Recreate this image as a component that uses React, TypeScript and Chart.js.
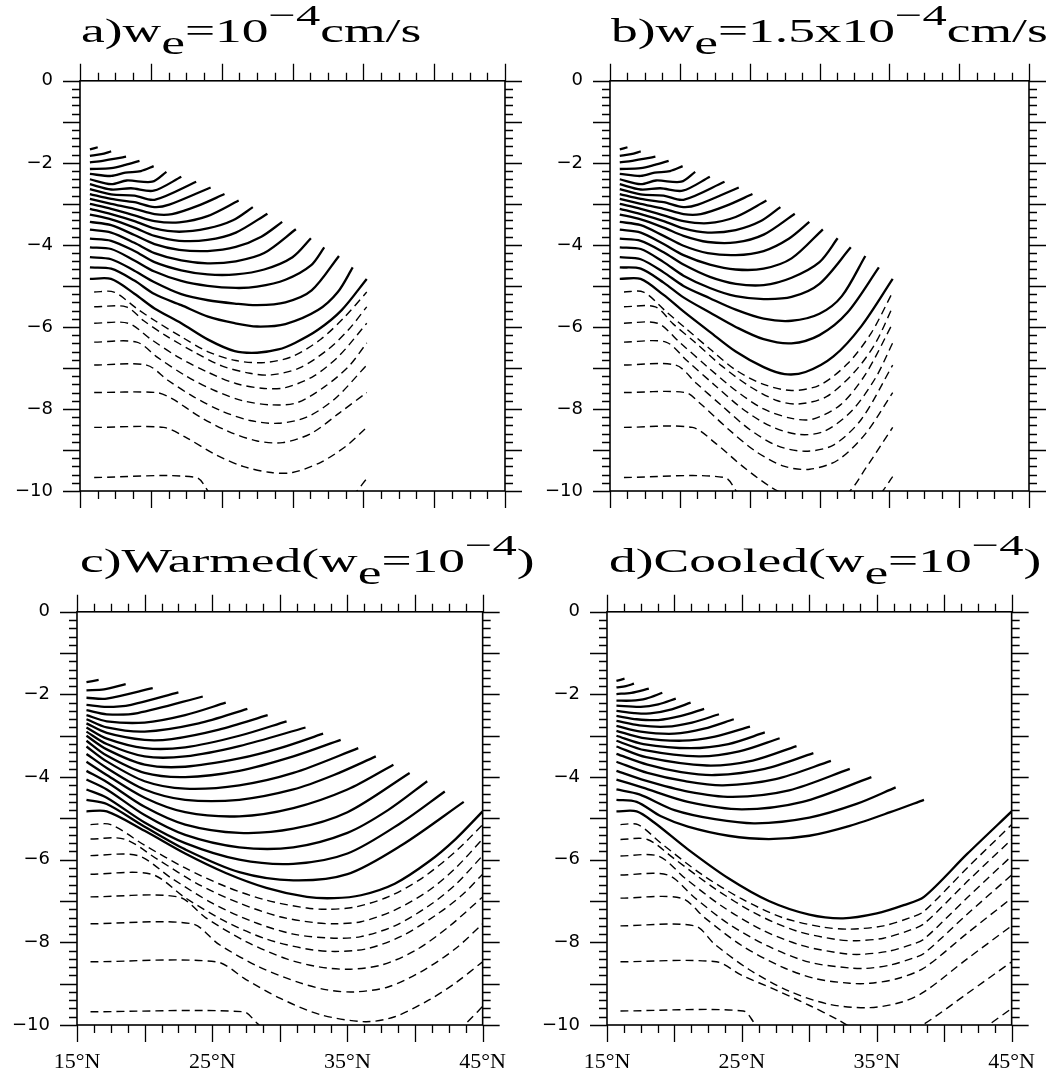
import React, { useEffect, useRef } from "react";
import { Chart, registerables } from "chart.js";
Chart.register(...registerables);

type Line = [number, number][];

const xLabelValues = [15, 25, 35, 45];
const yLabelValues = [0, -2, -4, -6, -8, -10];

// ---------- Panel a ----------
const aSolid: Line[] = [
  [[15.7,-1.67],[16.25,-1.62]],
  [[15.7,-1.83],[16.5,-1.79],[17.2,-1.72]],
  [[15.7,-1.99],[16.6,-1.95],[17.5,-1.9],[18.25,-1.85]],
  [[15.7,-2.15],[17.2,-2.13],[18.2,-2.05],[19.2,-1.95]],
  [[15.7,-2.27],[17.2,-2.32],[18.2,-2.24],[19.3,-2.2],[20.2,-2.08]],
  [[15.7,-2.4],[17.2,-2.52],[18.3,-2.43],[20.1,-2.46],[21.1,-2.22]],
  [[15.7,-2.52],[17.2,-2.65],[18.6,-2.62],[20.2,-2.68],[22.15,-2.34]],
  [[15.7,-2.64],[17.2,-2.77],[18.84,-2.8],[20.26,-2.9],[23.2,-2.46]],
  [[15.7,-2.76],[17.2,-2.88],[18.84,-2.96],[20.26,-3.08],[21.3,-3.02],[24.22,-2.6]],
  [[15.7,-2.88],[17.2,-3.0],[18.84,-3.12],[20.26,-3.25],[21.5,-3.25],[23.3,-3.05],[25.2,-2.76]],
  [[15.7,-3.0],[17.2,-3.12],[18.84,-3.28],[20.26,-3.42],[22,-3.45],[24,-3.3],[26.2,-2.92]],
  [[15.7,-3.12],[17.2,-3.25],[18.84,-3.42],[20.26,-3.6],[22,-3.68],[24,-3.6],[25.8,-3.4],[27.2,-3.08]],
  [[15.7,-3.26],[17.2,-3.38],[18.84,-3.58],[20.26,-3.78],[22,-3.9],[24,-3.88],[26,-3.7],[28.23,-3.24]],
  [[15.7,-3.44],[17.2,-3.52],[18.84,-3.76],[20.26,-3.98],[22,-4.12],[24,-4.15],[26,-4.05],[27.8,-3.8],[29.27,-3.44]],
  [[15.7,-3.63],[17.2,-3.7],[18.84,-3.95],[20.26,-4.2],[22.15,-4.38],[24,-4.45],[26,-4.4],[28,-4.2],[30.24,-3.62]],
  [[15.7,-3.85],[17.2,-3.9],[18.84,-4.15],[20.26,-4.42],[22.15,-4.62],[24,-4.72],[26,-4.72],[28,-4.6],[30,-4.3],[31.3,-3.84]],
  [[15.7,-4.06],[17.2,-4.1],[18.84,-4.38],[20.26,-4.65],[22.15,-4.88],[24,-5.0],[26,-5.05],[27.5,-5.02],[29.5,-4.85],[31.3,-4.5],[32.24,-4.06]],
  [[15.7,-4.3],[17.2,-4.35],[18.84,-4.63],[20.26,-4.91],[22.15,-5.2],[24.04,-5.35],[25.92,-5.43],[27.5,-5.47],[29.5,-5.4],[31.35,-5.11],[33.28,-4.27]],
  [[15.7,-4.55],[17.2,-4.58],[18.84,-4.87],[20.26,-5.2],[22.15,-5.47],[24.04,-5.75],[25.92,-5.91],[27.5,-5.99],[29.5,-5.93],[31.8,-5.59],[33.2,-5.15],[34.25,-4.55]],
  [[15.7,-4.83],[17.19,-4.83],[18.84,-5.19],[20.26,-5.55],[22.15,-5.91],[24.04,-6.31],[25.92,-6.59],[27.5,-6.63],[29,-6.55],[30.17,-6.39],[31.8,-6.07],[33.47,-5.59],[35.24,-4.83]],
];
const aDashed: Line[] = [
  [[16,-5.15],[17.4,-5.15],[19,-5.55],[20.3,-5.85],[22.2,-6.25],[24,-6.6],[26,-6.82],[28,-6.87],[30,-6.72],[32,-6.3],[33.7,-5.75],[35.24,-5.15]],
  [[16,-5.51],[18.25,-5.51],[19.5,-5.85],[21,-6.2],[23,-6.6],[25,-6.95],[27,-7.13],[28.5,-7.17],[30.5,-7.0],[32.5,-6.55],[34,-6.05],[35.24,-5.51]],
  [[16,-5.91],[18.4,-5.91],[20,-6.3],[22,-6.75],[24,-7.1],[26,-7.38],[28,-7.5],[29.5,-7.48],[31.5,-7.2],[33.3,-6.7],[35.24,-5.91]],
  [[16,-6.37],[19,-6.37],[20.5,-6.75],[22.5,-7.2],[24.5,-7.55],[26.5,-7.8],[28.5,-7.9],[30.3,-7.85],[32.3,-7.45],[34,-6.95],[35.24,-6.39]],
  [[16,-6.93],[19.7,-6.93],[21.2,-7.3],[23,-7.7],[25,-8.05],[27,-8.28],[29,-8.35],[31,-8.2],[33,-7.75],[35.24,-6.93]],
  [[16,-7.6],[20.4,-7.6],[21.5,-7.75],[23.5,-8.2],[25.5,-8.55],[27.5,-8.78],[29.3,-8.82],[31.3,-8.6],[33.3,-8.1],[35.24,-7.6]],
  [[16,-8.45],[20.9,-8.45],[22.5,-8.7],[24.5,-9.1],[26.5,-9.4],[28.5,-9.55],[30,-9.55],[32,-9.3],[33.8,-8.9],[35.24,-8.45]],
  [[16,-9.67],[23.2,-9.67],[24.3,-10.1],[29,-11],[34.2,-10.1],[35.24,-9.7]],
];

// ---------- Panel b ----------
const bSolid: Line[] = [
  [[15.7,-1.67],[16.25,-1.62]],
  [[15.7,-1.83],[16.5,-1.79],[17.2,-1.72]],
  [[15.7,-1.99],[16.6,-1.95],[17.5,-1.9],[18.25,-1.85]],
  [[15.7,-2.15],[17.2,-2.13],[18.2,-2.05],[19.2,-1.95]],
  [[15.7,-2.27],[17.2,-2.32],[18.2,-2.24],[19.3,-2.2],[20.2,-2.08]],
  [[15.7,-2.4],[17.2,-2.52],[18.3,-2.43],[20.1,-2.46],[21.1,-2.22]],
  [[15.7,-2.52],[17.2,-2.65],[18.6,-2.62],[20.2,-2.68],[22.15,-2.34]],
  [[15.7,-2.64],[17.2,-2.77],[18.84,-2.8],[20.26,-2.9],[23.2,-2.46]],
  [[15.7,-2.76],[17.2,-2.88],[18.84,-2.96],[20.26,-3.08],[21.3,-3.02],[24.22,-2.6]],
  [[15.7,-2.88],[17.2,-3.0],[18.84,-3.12],[20.26,-3.25],[21.5,-3.25],[23.3,-3.05],[25.2,-2.76]],
  [[15.7,-3.0],[17.2,-3.12],[18.84,-3.28],[20.26,-3.42],[22,-3.47],[24,-3.32],[26.2,-2.92]],
  [[15.7,-3.12],[17.2,-3.25],[18.84,-3.42],[20.26,-3.6],[22,-3.7],[24,-3.64],[25.8,-3.42],[27.2,-3.08]],
  [[15.7,-3.26],[17.2,-3.38],[18.84,-3.58],[20.26,-3.78],[22,-3.93],[24,-3.94],[26,-3.75],[28.23,-3.24]],
  [[15.7,-3.44],[17.2,-3.52],[18.84,-3.78],[20.26,-4.02],[22,-4.2],[24,-4.25],[26,-4.15],[27.8,-3.85],[29.27,-3.44]],
  [[15.7,-3.63],[17.2,-3.7],[18.84,-3.98],[20.26,-4.25],[22.15,-4.48],[24,-4.6],[26,-4.58],[28,-4.33],[30.24,-3.62]],
  [[15.7,-3.85],[17.2,-3.9],[18.84,-4.18],[20.26,-4.48],[22.15,-4.78],[24,-4.95],[26,-4.98],[28,-4.8],[30,-4.42],[31.3,-3.84]],
  [[15.7,-4.06],[17.2,-4.1],[18.84,-4.42],[20.26,-4.75],[22.15,-5.05],[24,-5.25],[26,-5.32],[28,-5.27],[30,-4.95],[32.24,-4.06]],
  [[15.7,-4.3],[17.2,-4.35],[18.84,-4.67],[20.26,-5.0],[22.15,-5.3],[24,-5.58],[26,-5.8],[28,-5.85],[30,-5.68],[31.6,-5.25],[33.28,-4.27]],
  [[15.7,-4.55],[17.2,-4.58],[18.84,-4.92],[20.26,-5.28],[22.15,-5.65],[24,-6.0],[26,-6.3],[28,-6.4],[30,-6.2],[32,-5.65],[34.25,-4.55]],
  [[15.7,-4.83],[17.19,-4.83],[18.84,-5.22],[20.26,-5.62],[22.15,-6.12],[24,-6.6],[26,-6.98],[27.5,-7.15],[29,-7.1],[31,-6.72],[33,-5.98],[35.24,-4.83]],
];
const bDashed: Line[] = [
  [[16,-5.15],[17.4,-5.15],[19,-5.62],[20.3,-6.0],[22.2,-6.55],[24,-7.05],[26,-7.4],[28,-7.55],[30,-7.42],[32,-6.9],[33.7,-6.15],[35.24,-5.15]],
  [[16,-5.51],[18.25,-5.51],[19.5,-5.92],[21,-6.35],[23,-6.95],[25,-7.45],[27,-7.8],[28.5,-7.88],[30.5,-7.7],[32.5,-7.1],[34,-6.4],[35.24,-5.51]],
  [[16,-5.91],[18.4,-5.91],[20,-6.38],[22,-6.98],[24,-7.55],[26,-8.0],[28,-8.23],[29.5,-8.25],[31.5,-7.9],[33.3,-7.15],[35.24,-5.91]],
  [[16,-6.37],[19,-6.37],[20.5,-6.82],[22.5,-7.42],[24.5,-8.0],[26.5,-8.42],[28.5,-8.62],[30.3,-8.55],[32.3,-8.05],[34,-7.25],[35.24,-6.39]],
  [[16,-6.93],[19.7,-6.93],[21.2,-7.38],[23,-7.92],[25,-8.5],[27,-8.9],[29,-9.03],[31,-8.88],[33,-8.25],[35.24,-6.93]],
  [[16,-7.6],[20.4,-7.6],[21.5,-7.88],[23.5,-8.5],[25.5,-9.05],[27.5,-9.4],[29.3,-9.47],[31.3,-9.25],[33.3,-8.6],[35.24,-7.6]],
  [[16,-8.45],[20.9,-8.45],[22.5,-8.82],[24.5,-9.4],[26.5,-9.9],[28,-10.15],[30,-10.3],[32,-10.05],[33.3,-9.45],[35.24,-8.45]],
  [[16,-9.67],[23.2,-9.67],[24.3,-10.1],[29,-11],[34.2,-10.1],[35.24,-9.65]],
];

// ---------- Panel c ----------
const cSolid: Line[] = [
  [[15.7,-1.7],[16.6,-1.65]],
  [[15.7,-1.9],[17,-1.88],[18.6,-1.75]],
  [[15.7,-2.08],[17.2,-2.1],[20.6,-1.85]],
  [[15.7,-2.25],[17.2,-2.3],[19,-2.25],[22.5,-1.95]],
  [[15.7,-2.38],[17.2,-2.48],[19.5,-2.45],[24.3,-2.05]],
  [[15.7,-2.5],[17.2,-2.65],[20,-2.68],[23,-2.5],[26,-2.2]],
  [[15.7,-2.6],[17.2,-2.8],[20,-2.9],[24,-2.7],[27.6,-2.35]],
  [[15.7,-2.7],[17.2,-2.93],[20,-3.1],[22,-3.08],[25.5,-2.85],[29.1,-2.5]],
  [[15.7,-2.8],[17.2,-3.07],[20,-3.3],[23,-3.28],[27,-3.0],[30.5,-2.65]],
  [[15.7,-2.9],[17.2,-3.2],[20,-3.5],[23,-3.5],[27,-3.25],[31.9,-2.8]],
  [[15.7,-3.0],[17.2,-3.33],[20,-3.7],[23,-3.75],[27,-3.55],[30,-3.3],[33.2,-2.95]],
  [[15.7,-3.12],[17.2,-3.48],[20,-3.9],[23,-4.0],[27,-3.85],[31,-3.5],[34.5,-3.1]],
  [[15.7,-3.26],[17.2,-3.62],[20,-4.1],[23,-4.28],[27,-4.2],[31,-3.9],[35.8,-3.3]],
  [[15.7,-3.44],[17.2,-3.78],[20,-4.3],[23,-4.55],[27,-4.55],[31,-4.3],[34,-3.95],[37.1,-3.5]],
  [[15.7,-3.63],[17.2,-3.95],[20,-4.5],[23,-4.85],[27,-4.95],[31,-4.75],[35,-4.3],[38.4,-3.7]],
  [[15.7,-3.85],[17.2,-4.12],[20,-4.72],[23,-5.15],[27,-5.35],[31,-5.25],[35,-4.85],[39.6,-3.9]],
  [[15.7,-4.06],[17.2,-4.3],[20,-4.92],[23,-5.4],[27,-5.7],[31,-5.7],[35,-5.35],[38,-4.8],[40.9,-4.1]],
  [[15.7,-4.3],[17.2,-4.5],[20,-5.1],[23,-5.6],[27,-6.0],[31,-6.1],[35,-5.85],[39,-5.1],[42.2,-4.35]],
  [[15.7,-4.55],[17.2,-4.65],[20,-5.2],[23,-5.75],[27,-6.3],[31,-6.5],[35,-6.35],[39,-5.65],[43.6,-4.6]],
  [[15.7,-4.83],[17.2,-4.83],[20,-5.3],[23,-5.85],[26,-6.32],[29,-6.68],[32,-6.9],[34,-6.93],[36,-6.86],[38.5,-6.58],[41,-6.05],[43,-5.5],[45,-4.83]],
];
const cDashed: Line[] = [
  [[16,-5.15],[17.5,-5.15],[20,-5.65],[23,-6.2],[26,-6.65],[29,-6.98],[32,-7.17],[33.5,-7.2],[35.5,-7.15],[38,-6.9],[40.5,-6.45],[43,-5.8],[45,-5.15]],
  [[16,-5.5],[18.5,-5.5],[21,-6.0],[24,-6.6],[27,-7.05],[30,-7.38],[32.5,-7.52],[34,-7.55],[36,-7.5],[38.5,-7.22],[41,-6.75],[43,-6.2],[45,-5.5]],
  [[16,-5.9],[19.5,-5.9],[22,-6.45],[25,-7.05],[28,-7.5],[31,-7.8],[34,-7.9],[36,-7.86],[38.5,-7.6],[41,-7.12],[43,-6.6],[45,-5.9]],
  [[16,-6.35],[20.5,-6.35],[23,-6.92],[26,-7.5],[29,-7.92],[32,-8.16],[34.1,-8.22],[36.5,-8.15],[39,-7.85],[41.5,-7.35],[43.5,-6.85],[45,-6.35]],
  [[16,-6.9],[22.5,-6.9],[24.5,-7.4],[27.5,-7.98],[30.5,-8.4],[33,-8.6],[35.2,-8.65],[37.5,-8.55],[40,-8.2],[42.5,-7.62],[45,-6.9]],
  [[16,-7.55],[23.5,-7.55],[25.5,-8.05],[28.5,-8.6],[31.5,-8.98],[33.5,-9.15],[35.5,-9.2],[38,-9.08],[40.5,-8.7],[43,-8.15],[45,-7.55]],
  [[16,-8.47],[25.3,-8.47],[27.5,-8.9],[30,-9.35],[33,-9.75],[36.3,-9.92],[38.5,-9.8],[41,-9.4],[43,-8.98],[45,-8.47]],
  [[16,-9.68],[27.3,-9.68],[28.3,-9.95],[29.5,-10.3],[36,-11],[42.5,-10.3],[43.8,-9.95],[45,-9.55]],
];

// ---------- Panel d ----------
const dSolid: Line[] = [
  [[15.7,-1.67],[16.3,-1.62]],
  [[15.7,-1.83],[16.4,-1.8],[17.0,-1.74]],
  [[15.7,-1.99],[16.8,-1.96],[18.1,-1.86]],
  [[15.7,-2.15],[16.8,-2.15],[17.9,-2.1],[19.1,-1.96]],
  [[15.7,-2.27],[17.5,-2.3],[18.8,-2.24],[20.1,-2.1]],
  [[15.7,-2.4],[17.0,-2.45],[18.2,-2.46],[19.8,-2.36],[21.2,-2.2]],
  [[15.7,-2.52],[17.2,-2.6],[18.8,-2.62],[20.5,-2.52],[22.2,-2.35]],
  [[15.7,-2.64],[17.4,-2.75],[19.4,-2.78],[21.3,-2.68],[23.3,-2.48]],
  [[15.7,-2.76],[17.5,-2.9],[20,-2.95],[22.2,-2.83],[24.4,-2.6]],
  [[15.7,-2.88],[17.6,-3.05],[20.6,-3.12],[23,-3.02],[25.6,-2.78]],
  [[15.7,-3.0],[17.7,-3.2],[21.2,-3.3],[24,-3.2],[26.7,-2.92]],
  [[15.7,-3.12],[17.8,-3.35],[21.8,-3.5],[24.8,-3.38],[27.8,-3.06]],
  [[15.7,-3.26],[17.9,-3.52],[22.4,-3.72],[25.8,-3.6],[29.05,-3.25]],
  [[15.7,-3.44],[18,-3.7],[20.5,-3.88],[23,-3.95],[26.7,-3.8],[30.3,-3.42]],
  [[15.7,-3.63],[18,-3.9],[20.8,-4.1],[23.6,-4.2],[27.5,-4.05],[31.6,-3.61]],
  [[15.7,-3.85],[17.8,-4.08],[21,-4.35],[24.3,-4.48],[28.5,-4.32],[33.0,-3.8]],
  [[15.7,-4.06],[17.6,-4.25],[21,-4.6],[25,-4.78],[29.5,-4.6],[34.6,-4.0]],
  [[15.7,-4.3],[17.4,-4.42],[20,-4.8],[23,-5.02],[26,-5.12],[30,-4.98],[33.5,-4.65],[36.4,-4.25]],
  [[15.7,-4.55],[17.2,-4.6],[19,-4.95],[21,-5.2],[24,-5.42],[27,-5.5],[30,-5.42],[33,-5.18],[36,-4.85],[38.5,-4.55]],
  [[15.7,-4.83],[17.2,-4.83],[18.5,-5.1],[21,-5.75],[24,-6.45],[27,-7.0],[30,-7.33],[32.5,-7.42],[35,-7.3],[37,-7.1],[38.5,-6.9],[41.7,-5.86],[45,-4.83]],
];
const dDashed: Line[] = [
  [[16,-5.15],[17.3,-5.15],[19,-5.6],[22,-6.35],[25,-6.95],[28,-7.4],[31,-7.63],[33,-7.68],[35.5,-7.6],[37.5,-7.4],[38.5,-7.25],[41.7,-6.2],[45,-5.15]],
  [[16,-5.51],[18,-5.51],[20,-5.98],[23,-6.7],[26,-7.3],[29,-7.72],[32,-7.93],[33.5,-7.96],[35.5,-7.9],[37.5,-7.7],[38.5,-7.55],[41.7,-6.53],[45,-5.51]],
  [[16,-5.91],[18.8,-5.91],[20.8,-6.45],[23.5,-7.12],[26.5,-7.7],[29.5,-8.08],[32.5,-8.27],[33.8,-8.29],[35.8,-8.22],[37.6,-8.05],[38.5,-7.92],[41.7,-6.92],[45,-5.91]],
  [[16,-6.37],[19.5,-6.37],[21.5,-6.92],[24,-7.55],[27,-8.1],[30,-8.48],[33,-8.62],[34.2,-8.63],[36,-8.55],[37.7,-8.38],[38.5,-8.27],[41.7,-7.32],[45,-6.37]],
  [[16,-6.93],[20.5,-6.93],[22.3,-7.42],[25,-8.08],[28,-8.6],[30.5,-8.88],[33,-8.99],[34.5,-8.99],[36.5,-8.88],[38.5,-8.62],[41.7,-7.78],[45,-6.93]],
  [[16,-7.6],[21.5,-7.6],[23,-8.05],[25.5,-8.65],[28.5,-9.18],[31.5,-9.5],[34.5,-9.58],[36.8,-9.45],[38.5,-9.2],[41.7,-8.4],[45,-7.6]],
  [[16,-8.47],[23.1,-8.47],[25,-8.8],[27.5,-9.15],[30.1,-9.54],[32,-9.85],[34,-10.2],[36.5,-10.3],[38.4,-10.0],[41.7,-9.24],[45,-8.47]],
  [[16,-9.66],[25.1,-9.66],[26,-9.98],[27.5,-10.4],[35,-11.2],[42.2,-10.3],[43.3,-10.0],[45,-9.6]],
];

type PanelProps = {
  solid: Line[];
  dashed: Line[];
  L: number; T: number; R: number; B: number;
  showX: boolean;
};

const PAD_L = 75, PAD_T = 30, PAD_R = 30, PAD_B = 65;

const framePlugin = {
  id: "frameTicks",
  afterDatasetsDraw(chart: any) {
    const { ctx, chartArea, scales } = chart;
    const { left, right, top, bottom } = chartArea;
    const xs = scales.x, ys = scales.y;
    ctx.save();
    ctx.strokeStyle = "#000";
    ctx.lineWidth = 1.6;
    ctx.lineCap = "butt";
    ctx.strokeRect(left, top, right - left, bottom - top);
    ctx.lineWidth = 1.3;
    ctx.beginPath();
    for (let i = 0; i <= 24; i++) {
      const v = 15 + i * 1.25;
      const px = Math.round(xs.getPixelForValue(v)) + 0.5;
      const len = i % 4 === 0 ? 17 : 8;
      ctx.moveTo(px, top); ctx.lineTo(px, top - len);
      ctx.moveTo(px, bottom); ctx.lineTo(px, bottom + len);
    }
    for (let i = 0; i <= 50; i++) {
      const v = -i * 0.2;
      const py = Math.round(ys.getPixelForValue(v)) + 0.5;
      const len = i % 5 === 0 ? 17 : 8;
      ctx.moveTo(left, py); ctx.lineTo(left - len, py);
      ctx.moveTo(right, py); ctx.lineTo(right + len, py);
    }
    ctx.stroke();
    ctx.restore();
  },
};

function Panel({ solid, dashed, L, T, R, B, showX }: PanelProps) {
  const ref = useRef<HTMLCanvasElement>(null);
  const W = R - L + PAD_L + PAD_R;
  const H = B - T + PAD_T + PAD_B;
  useEffect(() => {
    if (!ref.current) return;
    const datasets: any[] = [];
    solid.forEach((ln) =>
      datasets.push({
        data: ln.map(([x, y]) => ({ x, y })),
        borderColor: "#000",
        borderWidth: 2.3,
        tension: 0.3,
        pointRadius: 0,
        fill: false,
      })
    );
    dashed.forEach((ln) =>
      datasets.push({
        data: ln.map(([x, y]) => ({ x, y })),
        borderColor: "#000",
        borderWidth: 1.4,
        borderDash: [8, 5],
        tension: 0.3,
        pointRadius: 0,
        fill: false,
      })
    );
    const chart = new Chart(ref.current, {
      type: "line",
      data: { datasets },
      options: {
        animation: false,
        responsive: false,
        maintainAspectRatio: false,
        layout: { padding: { left: 0, top: PAD_T, right: PAD_R, bottom: 0 } },
        plugins: { legend: { display: false }, tooltip: { enabled: false } },
        elements: { point: { radius: 0 }, line: { capBezierPoints: false } },
        scales: {
          x: {
            type: "linear",
            min: 15,
            max: 45,
            grid: { display: false, drawTicks: false },
            border: { display: false },
            afterBuildTicks: (s: any) => { s.ticks = xLabelValues.map((v) => ({ value: v })); },
            afterFit: (s: any) => { s.height = PAD_B; },
            ticks: {
              display: showX,
              padding: 24,
              maxRotation: 0,
              autoSkip: false,
              color: "#000",
              font: { family: "'Liberation Serif', 'Times New Roman', serif", size: 22 },
              callback: (v: any) => `${v}°N`,
            },
          },
          y: {
            type: "linear",
            min: -10,
            max: 0,
            grid: { display: false, drawTicks: false },
            border: { display: false },
            afterBuildTicks: (s: any) => { s.ticks = yLabelValues.map((v) => ({ value: v })); },
            afterFit: (s: any) => { s.width = PAD_L; },
            ticks: {
              padding: 27,
              autoSkip: false,
              color: "#000",
              font: { family: "'DejaVu Sans', sans-serif", size: 18 },
              callback: (v: any) => (Number(v) === 0 ? "0" : "\u2212" + Math.abs(Number(v))),
            },
          },
        },
      },
      plugins: [framePlugin],
    });
    return () => chart.destroy();
  }, []);
  return (
    <canvas
      ref={ref}
      width={W}
      height={H}
      style={{ position: "absolute", left: L - PAD_L, top: T - PAD_T, width: W, height: H }}
    />
  );
}

const titleStyle: React.CSSProperties = {
  position: "absolute",
  fontFamily: "'Liberation Serif', 'Times New Roman', serif",
  fontSize: 33,
  lineHeight: "33px",
  whiteSpace: "nowrap",
  transform: "scaleX(1.62)",
  transformOrigin: "left top",
  color: "#000",
};
const sub: React.CSSProperties = { position: "relative", top: 12 };
const sup: React.CSSProperties = { position: "relative", top: -17, fontSize: 30 };

export default function App() {
  return (
    <div style={{ position: "absolute", left: 0, top: 0, width: 1058, height: 1078, background: "#fff", overflow: "hidden" }}>
      <Panel solid={aSolid} dashed={aDashed} L={80} T={73} R={505} B={491} showX={false} />
      <Panel solid={bSolid} dashed={bDashed} L={610} T={73} R={1029} B={491} showX={false} />
      <Panel solid={cSolid} dashed={cDashed} L={77} T={604} R={500} B={1025} showX={true} />
      <Panel solid={dSolid} dashed={dDashed} L={607} T={604} R={1029} B={1025} showX={true} />
      <div style={{ ...titleStyle, left: 81, top: 15 }}>
        a)w<span style={sub}>e</span>=10<span style={sup}>{"\u22124"}</span>cm/s
      </div>
      <div style={{ ...titleStyle, left: 611, top: 15 }}>
        b)w<span style={sub}>e</span>=1.5x10<span style={sup}>{"\u22124"}</span>cm/s
      </div>
      <div style={{ ...titleStyle, left: 80, top: 545 }}>
        c)Warmed(w<span style={sub}>e</span>=10<span style={sup}>{"\u22124"}</span>)
      </div>
      <div style={{ ...titleStyle, left: 609, top: 545 }}>
        d)Cooled(w<span style={sub}>e</span>=10<span style={sup}>{"\u22124"}</span>)
      </div>
    </div>
  );
}
